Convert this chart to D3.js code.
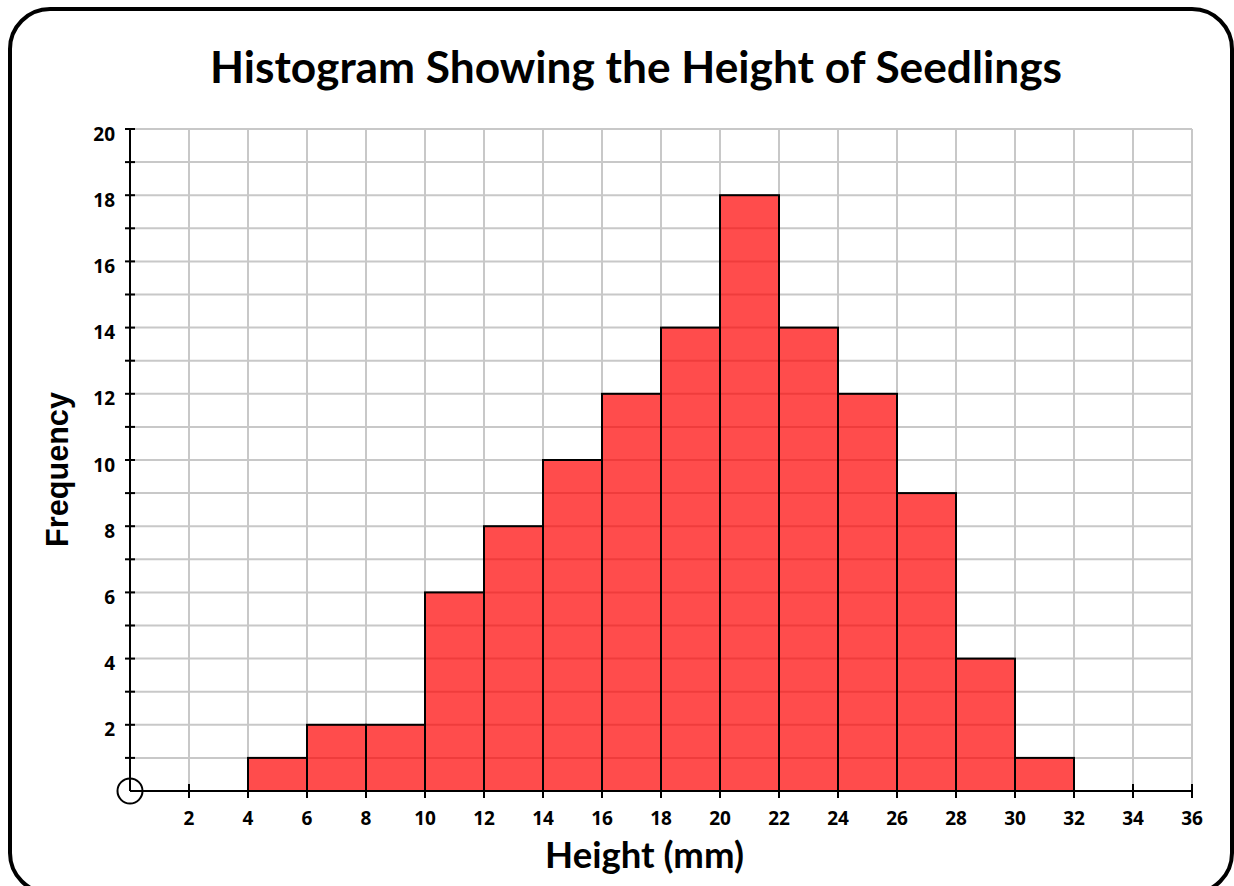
<!DOCTYPE html>
<html>
<head>
<meta charset="utf-8">
<script src="https://cdn.jsdelivr.net/npm/d3@7"></script>
<style>
  html, body { margin: 0; padding: 0; background: #fff; }
  svg { display: block; }
</style>
</head>
<body>
<svg id="chart" width="1234" height="886"></svg>
<script>
// ---- data ----
const binStarts = [4, 6, 8, 10, 12, 14, 16, 18, 20, 22, 24, 26, 28, 30];
const binWidth = 2;
const frequencies = [1, 2, 2, 6, 8, 10, 12, 14, 18, 14, 12, 9, 4, 1];
const xTickValues = [2, 4, 6, 8, 10, 12, 14, 16, 18, 20, 22, 24, 26, 28, 30, 32, 34, 36];
const yTickValues = [2, 4, 6, 8, 10, 12, 14, 16, 18, 20];
const yMinorTicks = [1,2,3,4,5,6,7,8,9,10,11,12,13,14,15,16,17,18,19,20];
const titleText = "Histogram Showing the Height of Seedlings";
const xLabel = "Height (mm)";
const yLabel = "Frequency";

const svg = d3.select("#chart");
const x = d3.scaleLinear().domain([0, 36]).range([130, 1192]);
const y = d3.scaleLinear().domain([0, 20]).range([791, 129]);
const labelFont = "'Open Sans', 'Noto Sans', sans-serif";

// border
svg.append("rect")
  .attr("x", 10).attr("y", 9).attr("width", 1222).attr("height", 884)
  .attr("rx", 40).attr("ry", 40)
  .attr("fill", "#fff").attr("stroke", "#000").attr("stroke-width", 4);

// grid
const grid = svg.append("g").attr("stroke", "#c8c8c8").attr("stroke-width", 2);
grid.selectAll("line.v").data(xTickValues).join("line")
  .attr("x1", d => x(d)).attr("x2", d => x(d))
  .attr("y1", y(20)).attr("y2", y(0));
grid.selectAll("line.h").data(yMinorTicks).join("line")
  .attr("x1", x(0)).attr("x2", x(36))
  .attr("y1", d => y(d)).attr("y2", d => y(d));

// bars
svg.append("g").selectAll("rect").data(binStarts).join("rect")
  .attr("x", d => x(d))
  .attr("width", d => x(d + binWidth) - x(d))
  .attr("y", (d, i) => y(frequencies[i]))
  .attr("height", (d, i) => y(0) - y(frequencies[i]))
  .attr("fill", "red").attr("fill-opacity", 0.7)
  .attr("stroke", "#000").attr("stroke-width", 2);

// axes lines
const ax = svg.append("g").attr("stroke", "#000").attr("stroke-width", 2).attr("fill", "none");
ax.append("line").attr("x1", x(0)).attr("x2", x(36)).attr("y1", y(0)).attr("y2", y(0));
ax.append("line").attr("x1", x(0)).attr("x2", x(0)).attr("y1", y(0)).attr("y2", y(20));
ax.selectAll("line.xt").data(xTickValues).join("line")
  .attr("x1", d => x(d)).attr("x2", d => x(d))
  .attr("y1", y(0) - 7).attr("y2", y(0) + 7);
ax.selectAll("line.yt").data(yMinorTicks).join("line")
  .attr("x1", x(0) - 5).attr("x2", x(0) + 5)
  .attr("y1", d => y(d)).attr("y2", d => y(d));
ax.append("circle").attr("cx", x(0)).attr("cy", y(0)).attr("r", 12.5);

// tick labels
svg.append("g").selectAll("text").data(xTickValues).join("text")
  .attr("x", d => x(d)).attr("y", y(0) + 34)
  .attr("text-anchor", "middle")
  .attr("font-family", labelFont).attr("font-weight", "bold").attr("font-size", 19)
  .text(d => d);
svg.append("g").selectAll("text").data(yTickValues).join("text")
  .attr("x", x(0) - 15).attr("y", d => y(d) + 11.5)
  .attr("text-anchor", "end")
  .attr("font-family", labelFont).attr("font-weight", "bold").attr("font-size", 19)
  .text(d => d);

function fit(sel, target) {
  const len = sel.node().getComputedTextLength();
  const fs = parseFloat(sel.attr("font-size"));
  sel.attr("font-size", fs * target / len);
}

// title
const t = svg.append("text")
  .attr("x", 636).attr("y", 83)
  .attr("text-anchor", "middle")
  .attr("font-family", "Lato, 'Open Sans', sans-serif").attr("font-weight", "bold")
  .attr("font-size", 40).text(titleText);
fit(t, 852);

const xl = svg.append("text")
  .attr("x", 644.5).attr("y", 868)
  .attr("text-anchor", "middle")
  .attr("font-family", "Lato, 'Open Sans', sans-serif").attr("font-weight", "bold")
  .attr("font-size", 30).text(xLabel);
fit(xl, 199);

const yl = svg.append("text")
  .attr("transform", "translate(68,469.5) rotate(-90)")
  .attr("text-anchor", "middle")
  .attr("font-family", "'Liberation Sans', Arial, sans-serif").attr("font-weight", "bold")
  .attr("font-size", 29).text(yLabel);
fit(yl, 155);
</script>
</body>
</html>
